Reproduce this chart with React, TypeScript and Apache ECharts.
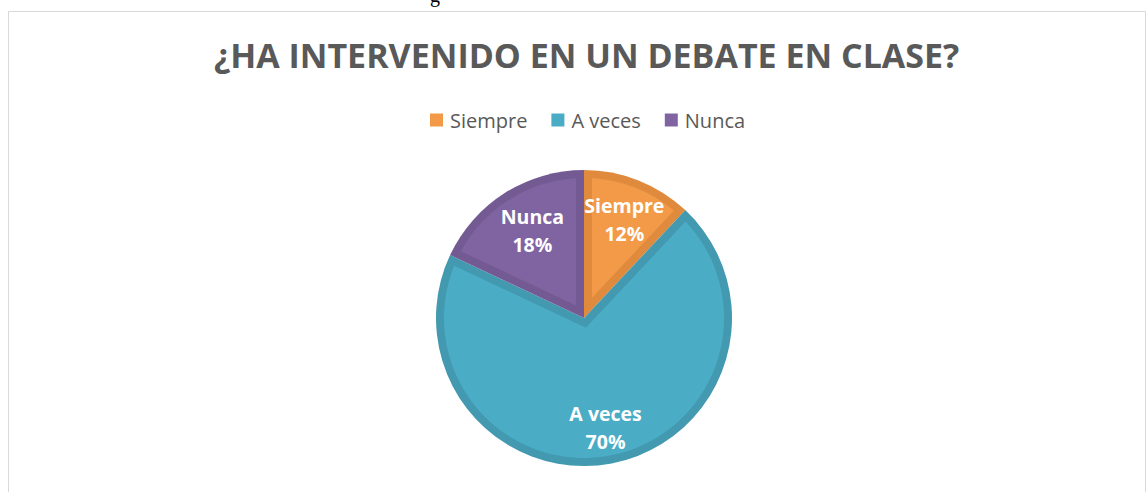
import React, { useEffect, useRef } from "react";
import * as echarts from "echarts";

const categories = ["Siempre", "A veces", "Nunca"];
const values = [12, 70, 18];
const fillColors = ["#F29A48", "#4BACC6", "#8064A2"];
const borderColors = ["#DF8A3C", "#4299B0", "#735A92"];
const labelOffsets = [[-2, 8], [0, -3], [10, 10]];
const titleText = "¿HA INTERVENIDO EN UN DEBATE EN CLASE?";

const CX = 584;
const CY = 318;
const R = 148;
const INSET = 8;

function innerPoints(index: number): number[][] {
  const total = values.reduce((a, b) => a + b, 0);
  let start = 0;
  for (let i = 0; i < index; i++) start += values[i];
  const p1 = (start / total) * Math.PI * 2;
  const p2 = ((start + values[index]) / total) * Math.PI * 2;
  const theta = p2 - p1;
  const dir = (a: number) => [Math.sin(a), -Math.cos(a)];
  const ub = dir((p1 + p2) / 2);
  const t = INSET / Math.sin(theta / 2);
  const q = [ub[0] * t, ub[1] * t];
  const rho = R - INSET;
  const hit = (u: number[]) => {
    const qu = q[0] * u[0] + q[1] * u[1];
    const qq = q[0] * q[0] + q[1] * q[1];
    const s = -qu + Math.sqrt(qu * qu - qq + rho * rho);
    return [q[0] + s * u[0], q[1] + s * u[1]];
  };
  const h1 = hit(dir(p1));
  const h2 = hit(dir(p2));
  const ang = (v: number[]) => Math.atan2(v[0], -v[1]);
  let a1 = ang(h1);
  let a2 = ang(h2);
  while (a1 < p1 - 0.5) a1 += Math.PI * 2;
  while (a2 < a1) a2 += Math.PI * 2;
  const pts: number[][] = [[CX + q[0], CY + q[1]]];
  const n = 120;
  for (let k = 0; k <= n; k++) {
    const a = a1 + ((a2 - a1) * k) / n;
    pts.push([CX + rho * Math.sin(a), CY - rho * Math.cos(a)]);
  }
  return pts;
}

export default function App() {
  const ref = useRef<HTMLDivElement>(null);
  useEffect(() => {
    if (!ref.current) return;
    const chart = echarts.init(ref.current, null, { renderer: "svg" });
    const data = categories.map((name, i) => ({
      name,
      value: values[i],
      itemStyle: { color: borderColors[i], borderWidth: 0 },
    }));
    const labelData = categories.map((name, i) => ({
      name,
      value: values[i],
      itemStyle: { color: "rgba(0,0,0,0)", borderWidth: 0 },
      label: { offset: labelOffsets[i] },
    }));
    chart.setOption({
      animation: false,
      backgroundColor: "#ffffff",
      title: {
        text: titleText,
        left: 209,
        top: 33,
        textStyle: {
          fontFamily: "Open Sans",
          fontWeight: "bold",
          fontSize: 34,
          color: "#595959",
        },
      },
      legend: {
        data: categories.map((name, i) => ({ name, itemStyle: { color: fillColors[i] } })),
        top: 105,
        left: 425,
        itemWidth: 13,
        itemHeight: 13,
        itemGap: 24,
        icon: "rect",
        textStyle: { fontFamily: "Open Sans", fontSize: 20, color: "#595959", padding: [0, 0, 0, 2] },
      },
      graphic: [
        {
          type: "rect",
          shape: { x: 8.5, y: 11.5, width: 1137, height: 500 },
          style: { fill: "none", stroke: "#D9D9D9", lineWidth: 1 },
          silent: true,
        },
        {
          type: "text",
          x: 430,
          y: -15,
          style: { text: "g", font: "20px 'Liberation Serif'", fill: "#000000", textBaseline: "top" },
          silent: true,
        },
      ],
      series: [
        {
          type: "pie",
          z: 1,
          center: [CX, CY],
          radius: [0, R],
          startAngle: 90,
          clockwise: true,
          label: { show: false },
          labelLine: { show: false },
          emphasis: { disabled: true },
          data,
        },
        {
          type: "custom",
          name: "inner",
          z: 2,
          coordinateSystem: "none",
          silent: true,
          data: values,
          renderItem: (params: any) => ({
            type: "polygon",
            shape: { points: innerPoints(params.dataIndex) },
            style: { fill: fillColors[params.dataIndex] },
          }),
        },
        {
          type: "pie",
          z: 3,
          center: [CX, CY],
          radius: [74, 150],
          startAngle: 90,
          clockwise: true,
          silent: true,
          label: {
            show: true,
            position: "inside",
            formatter: (p: any) => `${p.name}\n${p.value}%`,
            fontFamily: "Open Sans",
            fontWeight: "bold",
            fontSize: 19.5,
            lineHeight: 28,
            color: "#ffffff",
          },
          labelLine: { show: false },
          emphasis: { disabled: true },
          data: labelData,
        },
      ],
    });
    return () => chart.dispose();
  }, []);
  return (
    <div
      ref={ref}
      style={{ position: "fixed", left: 0, top: 0, width: 1147, height: 492 }}
    />
  );
}
